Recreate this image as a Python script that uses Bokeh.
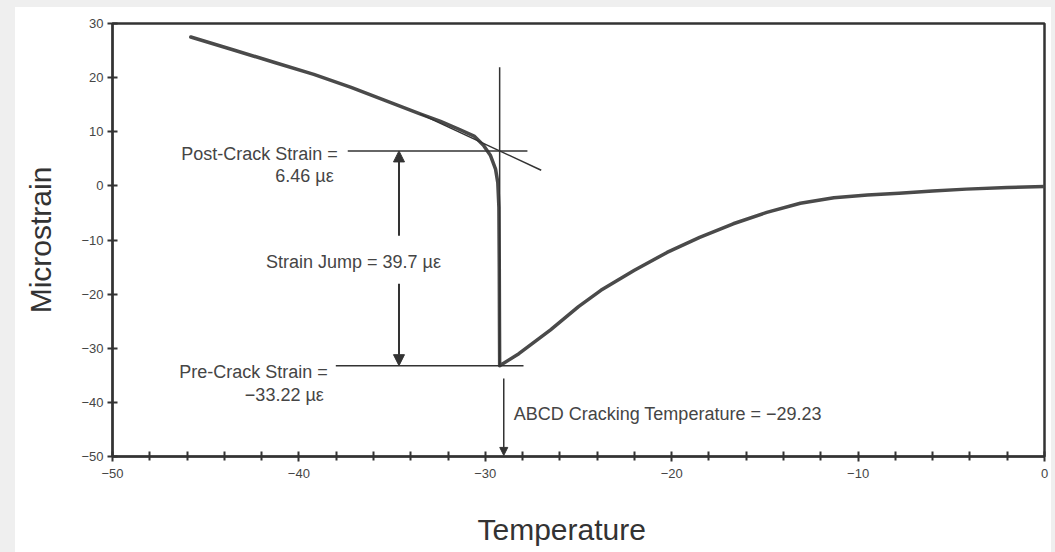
from bokeh.plotting import figure
from bokeh.models import (Range1d, FixedTicker, Arrow, NormalHead, Title, Spacer)
from bokeh.layouts import row, column
from bokeh.core.properties import value
from bokeh.embed import file_html
from bokeh.resources import INLINE

# Measured strain trace (temperature in °C, strain in microstrain)
temperature = [-45.8, -43.5, -41.3, -39.2, -37.2, -35.0, -33.5, -32.4, -31.5,
               -30.6, -30.1, -29.72, -29.45, -29.33, -29.27, -29.25, -29.24, -29.23,
               -28.2, -26.5, -25.0, -23.8, -22.0, -20.25, -18.5, -16.7, -14.9,
               -13.1, -11.3, -9.5, -7.8, -6.0, -4.2, -2.0, 0.0]
microstrain = [27.5, 25.1, 22.8, 20.6, 18.2, 15.3, 13.3, 11.9, 10.6,
               9.2, 7.5, 5.6, 3.1, 0.6, -4.0, -15.0, -25.0, -33.22,
               -31.0, -26.6, -22.3, -19.3, -15.6, -12.3, -9.5, -7.0, -4.9,
               -3.2, -2.2, -1.7, -1.35, -0.95, -0.6, -0.3, -0.1]

# Characteristic values of the cracking event
crack_temp = -29.23
post_crack_strain = 6.46
pre_crack_strain = -33.22
glassy_slope = -1.6          # slope of the glassy tangent line

x_ticks = [-50, -40, -30, -20, -10, 0]
x_tick_labels = ["\u221250", "\u221240", "\u221230", "\u221220", "\u221210", "0"]
x_minor_ticks = [-48, -46, -44, -42, -38, -36, -34, -32, -28, -26, -24, -22,
                 -18, -16, -14, -12, -8, -6, -4, -2]
y_ticks = [-50, -40, -30, -20, -10, 0, 10, 20, 30]
y_tick_labels = ["\u221250", "\u221240", "\u221230", "\u221220", "\u221210", "0", "10", "20", "30"]


def fmt(v, nd=2):
    return f"{v:.{nd}f}".replace("-", "\u2212")


FONT = "Liberation Sans"
INK = "#333333"
TXT = "#454545"

p = figure(frame_width=932, frame_height=433, output_backend="svg", toolbar_location=None,
           x_range=Range1d(-50, 0), y_range=Range1d(-50, 30),
           min_border_left=97, min_border_right=7, min_border_top=16,
           min_border_bottom=96)
p.background_fill_color = "white"
p.border_fill_color = "white"
p.outline_line_color = INK
p.outline_line_width = 2.5
p.grid.visible = False

# Axes
p.xaxis.ticker = FixedTicker(ticks=x_ticks, minor_ticks=x_minor_ticks)
p.xaxis.major_label_overrides = dict(zip(x_ticks, x_tick_labels))
p.yaxis.ticker = FixedTicker(ticks=y_ticks, minor_ticks=[])
p.yaxis.major_label_overrides = dict(zip(y_ticks, y_tick_labels))
for ax in (p.xaxis, p.yaxis):
    ax.axis_line_color = INK
    ax.axis_line_width = 2
    ax.major_tick_line_color = INK
    ax.major_tick_line_width = 2
    ax.minor_tick_line_color = INK
    ax.minor_tick_line_width = 2
    ax.major_tick_in = 5
    ax.major_tick_out = 5
    ax.minor_tick_in = 5
    ax.minor_tick_out = 4
    ax.major_label_text_font = FONT
    ax.major_label_text_font_size = "13px"
    ax.major_label_text_color = TXT
    ax.major_label_standoff = 4
p.xaxis.major_label_standoff = 7

p.yaxis.axis_label = "Microstrain"
p.yaxis.axis_label_text_font = FONT
p.yaxis.axis_label_text_font_size = "30px"
p.yaxis.axis_label_text_font_style = "normal"
p.yaxis.axis_label_text_color = INK
p.yaxis.axis_label_standoff = 21

p.add_layout(Title(text="Temperature", align="left", offset=365, standoff=61,
                   text_font=FONT, text_font_size="30px",
                   text_font_style="normal", text_color=INK), "below")

# Strain trace
p.line(temperature, microstrain, line_color="#4a4a4a", line_width=3.5,
       line_join="round", line_cap="round")

# Glassy tangent line through the post-crack point
tx0, tx1 = -33.5, -27.0
p.line([tx0, tx1],
       [post_crack_strain + glassy_slope * (tx0 - crack_temp),
        post_crack_strain + glassy_slope * (tx1 - crack_temp)],
       line_color=INK, line_width=1.5)

# Vertical line at the cracking temperature
p.line([crack_temp, crack_temp], [21.9, pre_crack_strain], line_color=INK, line_width=1.5)

# Post- and pre-crack strain levels
p.line([-37.38, -27.74], [post_crack_strain, post_crack_strain], line_color=INK, line_width=1.5)
p.line([-38.02, -27.95], [pre_crack_strain, pre_crack_strain], line_color=INK, line_width=1.5)

# Strain jump double arrow
jx = -34.63
head = dict(size=11, fill_color=INK, line_color=INK, line_width=1)
p.add_layout(Arrow(end=NormalHead(**head), x_start=jx, y_start=-9.2, x_end=jx,
                   y_end=post_crack_strain, line_color=INK, line_width=2))
p.add_layout(Arrow(end=NormalHead(**head), x_start=jx, y_start=-18.1, x_end=jx,
                   y_end=pre_crack_strain, line_color=INK, line_width=2))

# Arrow pointing to the cracking temperature on the axis
p.add_layout(Arrow(end=NormalHead(size=8, fill_color=INK, line_color=INK, line_width=1),
                   x_start=crack_temp + 0.22, y_start=-35.6,
                   x_end=crack_temp + 0.22, y_end=-49.8,
                   line_color=INK, line_width=1.5))

txt = dict(text_font=value(FONT), text_font_size="18px", text_color=TXT,
           text_baseline="middle")

p.text([-37.38], [post_crack_strain], text=["Post-Crack Strain ="],
       text_align="right", x_offset=-10, y_offset=3, **txt)
p.text([-37.38], [post_crack_strain], text=[f"{fmt(post_crack_strain)} \u00b5\u03b5"],
       text_align="right", x_offset=-14, y_offset=25, **txt)
p.text([-38.02], [pre_crack_strain], text=["Pre-Crack Strain ="],
       text_align="right", x_offset=-8, y_offset=6, **txt)
p.text([-38.02], [pre_crack_strain], text=[f"{fmt(pre_crack_strain)} \u00b5\u03b5"],
       text_align="right", x_offset=-12, y_offset=29, **txt)

jump = round(post_crack_strain - pre_crack_strain, 1)
p.text([jx], [-14.1], text=[f"Strain Jump = {fmt(jump, 1)} \u00b5\u03b5"],
       text_align="right", x_offset=42, **txt)

p.text([crack_temp], [-42.1], text=[f"ABCD Cracking Temperature = {fmt(crack_temp)}"],
       text_align="left", x_offset=14, **txt)

GREY = "#efefef"
layout = row(
    Spacer(width=15, height=552, styles={"background-color": GREY}),
    column(Spacer(width=1036, height=7, styles={"background-color": GREY}), p),
    Spacer(width=4, height=552, styles={"background-color": GREY}),
)

open("out.html", "w").write(file_html(layout, INLINE))
